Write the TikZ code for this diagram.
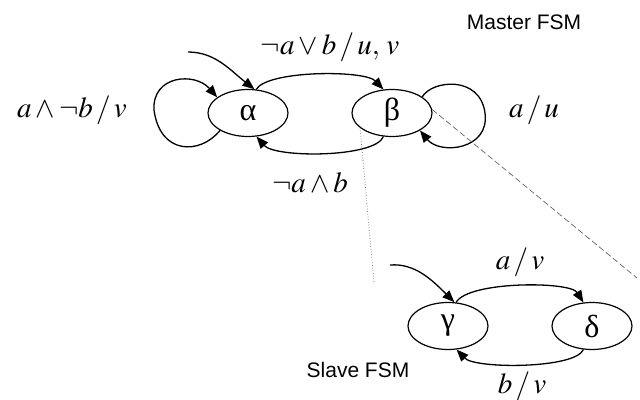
\documentclass[tikz,border=0pt]{standalone}
\usepackage{mathptmx}
\usepackage{fontspec}
\newfontfamily\grk{Liberation Serif}
\newfontfamily\hv{Liberation Sans}
\usetikzlibrary{shapes.geometric,arrows.meta}
\newcommand{\slsep}{\mkern2mu/\mkern2mu}
\tikzset{
  state/.style={draw,ellipse,line width=1.2pt,minimum width=80pt,minimum height=47pt,inner sep=0pt,font=\grk\fontsize{32}{34}\selectfont},
  trans/.style={draw,line width=1.3pt,-{Triangle[length=12pt,width=9.5pt]}},
  lbl/.style={font=\fontsize{29}{32}\selectfont,inner sep=0pt},
  fsmcaption/.style={font=\hv\fontsize{21}{24}\selectfont,inner sep=0pt},
  zoomline/.style={draw=black!60,line width=0.7pt}
}
\begin{document}
\begin{tikzpicture}[x=1pt,y=-1pt]
\useasboundingbox (0,0) rectangle (640,399);
% master states
\node[state] (alpha) at (248,113) {α};
\node[state] (beta) at (392,113) {β};
% slave states
\node[state] (gamma) at (448,326) {γ};
\node[state] (delta) at (592,326) {δ};
% labels
\node[lbl] (l1) at (72,110) {$a\wedge\neg b\slsep v$};
\node[lbl] (l2) at (330,47) {$\neg a\vee b\slsep u,\,v$};
\node[lbl] (l3) at (310,183) {$\neg a\wedge b$};
\node[lbl] (l4) at (534,110) {$a\slsep u$};
\node[lbl] (l5) at (520,262) {$a\slsep v$};
\node[lbl] (l6) at (522,386) {$b\slsep v$};
\node[fsmcaption] (c1) at (524,22) {Master FSM};
\node[fsmcaption] (c2) at (358,370) {Slave FSM};
% initial arrows
\coordinate (ia) at (188,52);
\coordinate (ig) at (390,265);
\draw[trans] (ia) .. controls (215,52) and (230,70) .. (alpha.75);
\draw[trans] (ig) .. controls (415,263) and (432,280) .. (gamma.75);
% master transitions
\draw[trans] (alpha.71) .. controls (268,70) and (365,70) .. (beta.110);
\draw[trans] (beta.250) .. controls (375,158) and (275,158) .. (alpha.290);
\draw[trans] (alpha.212) .. controls (200,155) and (160,155) .. (154,110)
  .. controls (152,75) and (195,72) .. (alpha.153);
\draw[trans] (beta.28) .. controls (432,80) and (480,75) .. (485,113)
  .. controls (490,150) and (440,155) .. (beta.-32);
% slave transitions
\draw[trans] (gamma.71) .. controls (468,281) and (570,281) .. (delta.110);
\draw[trans] (delta.250) .. controls (575,369) and (475,369) .. (gamma.290);
% zoom lines
\coordinate (z1) at (374,283);
\coordinate (z2) at (637,278);
\draw[zoomline,dotted] (beta.205) -- (z1);
\draw[zoomline,dash pattern=on 6pt off 3pt] (beta.5) -- (z2);
\end{tikzpicture}
\end{document}
